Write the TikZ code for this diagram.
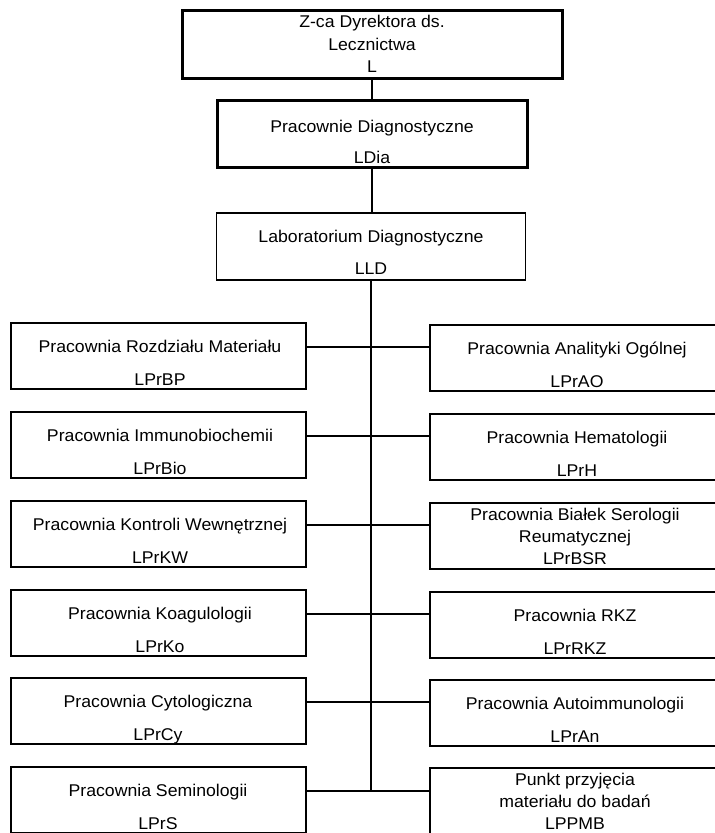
\documentclass[tikz,border=0pt]{standalone}
\usepackage{fontspec}
\setmainfont[FakeStretch=1.04]{Liberation Sans}
\begin{document}
\begin{tikzpicture}[x=1pt,y=-1pt,
  bx/.style={draw=black, line width=1.7pt, inner sep=0pt, minimum width=295pt, minimum height=66pt},
  topbx/.style={draw=black, line width=3pt, inner sep=0pt},
  thinbx/.style={draw=black, line width=1.5pt, inner sep=0pt},
  txt/.style={anchor=base, inner sep=0pt, font=\fontsize{17}{20}\selectfont},
  conn/.style={draw=black, line width=1.7pt}]
\useasboundingbox (0,0) rectangle (715,833);
\clip (0,0) rectangle (715,833);
\fill[white] (0,0) rectangle (715,833);

% top chain
\node[topbx, minimum width=380pt, minimum height=68pt] (L) at (372,44) {};
\node[topbx, minimum width=310pt, minimum height=67pt] (LDia) at (372,133.5) {};
\node[thinbx, minimum width=309pt, minimum height=67pt] (LLD) at (371,246.5) {};

\node[txt] (La) at (372,27) {Z-ca Dyrektora ds.};
\node[txt] (Lb) at (372,50) {Lecznictwa};
\node[txt] (Lc) at (372,72) {L};
\node[txt] (Da) at (372,132) {Pracownie Diagnostyczne};
\node[txt] (Db) at (372,163) {LDia};
\node[txt] (Ea) at (371,242) {Laboratorium Diagnostyczne};
\node[txt] (Eb) at (371,274) {LLD};

% left boxes
\node[bx] (l1) at (158.5,356) {};
\node[bx] (l2) at (158.5,445) {};
\node[bx] (l3) at (158.5,534) {};
\node[bx] (l4) at (158.5,623) {};
\node[bx] (l5) at (158.5,711) {};
\node[bx] (l6) at (158.5,800) {};
% right boxes
\node[bx] (r1) at (577.5,358) {};
\node[bx] (r2) at (577.5,447) {};
\node[bx] (r3) at (577.5,536) {};
\node[bx] (r4) at (577.5,625) {};
\node[bx] (r5) at (577.5,713) {};
\node[bx] (r6) at (577.5,801) {};

% left texts
\node[txt] (l1a) at (160,352) {Pracownia Rozdziału Materiału};
\node[txt] (l1b) at (160,385) {LPrBP};
\node[txt] (l2a) at (160,441) {Pracownia Immunobiochemii};
\node[txt] (l2b) at (160,474) {LPrBio};
\node[txt] (l3a) at (160,530) {Pracownia Kontroli Wewnętrznej};
\node[txt] (l3b) at (160,563) {LPrKW};
\node[txt] (l4a) at (160,619) {Pracownia Koagulologii};
\node[txt] (l4b) at (160,652) {LPrKo};
\node[txt] (l5a) at (158,707) {Pracownia Cytologiczna};
\node[txt] (l5b) at (158,740) {LPrCy};
\node[txt] (l6a) at (158,796) {Pracownia Seminologii};
\node[txt] (l6b) at (158,829) {LPrS};

% right texts
\node[txt] (r1a) at (577,354) {Pracownia Analityki Ogólnej};
\node[txt] (r1b) at (577,387) {LPrAO};
\node[txt] (r2a) at (577,443) {Pracownia Hematologii};
\node[txt] (r2b) at (577,476) {LPrH};
\node[txt] (r3a) at (575,520) {Pracownia Białek Serologii};
\node[txt] (r3b) at (575,542) {Reumatycznej};
\node[txt] (r3c) at (575,564) {LPrBSR};
\node[txt] (r4a) at (575,621) {Pracownia RKZ};
\node[txt] (r4b) at (575,654) {LPrRKZ};
\node[txt] (r5a) at (575,709) {Pracownia Autoimmunologii};
\node[txt] (r5b) at (575,742) {LPrAn};
\node[txt] (r6a) at (575,785) {Punkt przyjęcia};
\node[txt] (r6b) at (575,807) {materiału do badań};
\node[txt] (r6c) at (575,829) {LPPMB};

% junctions on trunk
\coordinate (j1) at (371,347);
\coordinate (j2) at (371,436);
\coordinate (j3) at (371,525);
\coordinate (j4) at (371,614);
\coordinate (j5) at (371,702);
\coordinate (j6) at (371,791);

% connectors
\draw[conn] (L.south) -- (LDia.north);
\draw[conn] (LDia.south) -- (LDia.south |- LLD.north);
\draw[conn] (LLD.south) -- (j6);
\draw[conn] (l1.east |- j1) -- (r1.west |- j1);
\draw[conn] (l2.east |- j2) -- (r2.west |- j2);
\draw[conn] (l3.east |- j3) -- (r3.west |- j3);
\draw[conn] (l4.east |- j4) -- (r4.west |- j4);
\draw[conn] (l5.east |- j5) -- (r5.west |- j5);
\draw[conn] (l6.east |- j6) -- (r6.west |- j6);
\end{tikzpicture}
\end{document}
